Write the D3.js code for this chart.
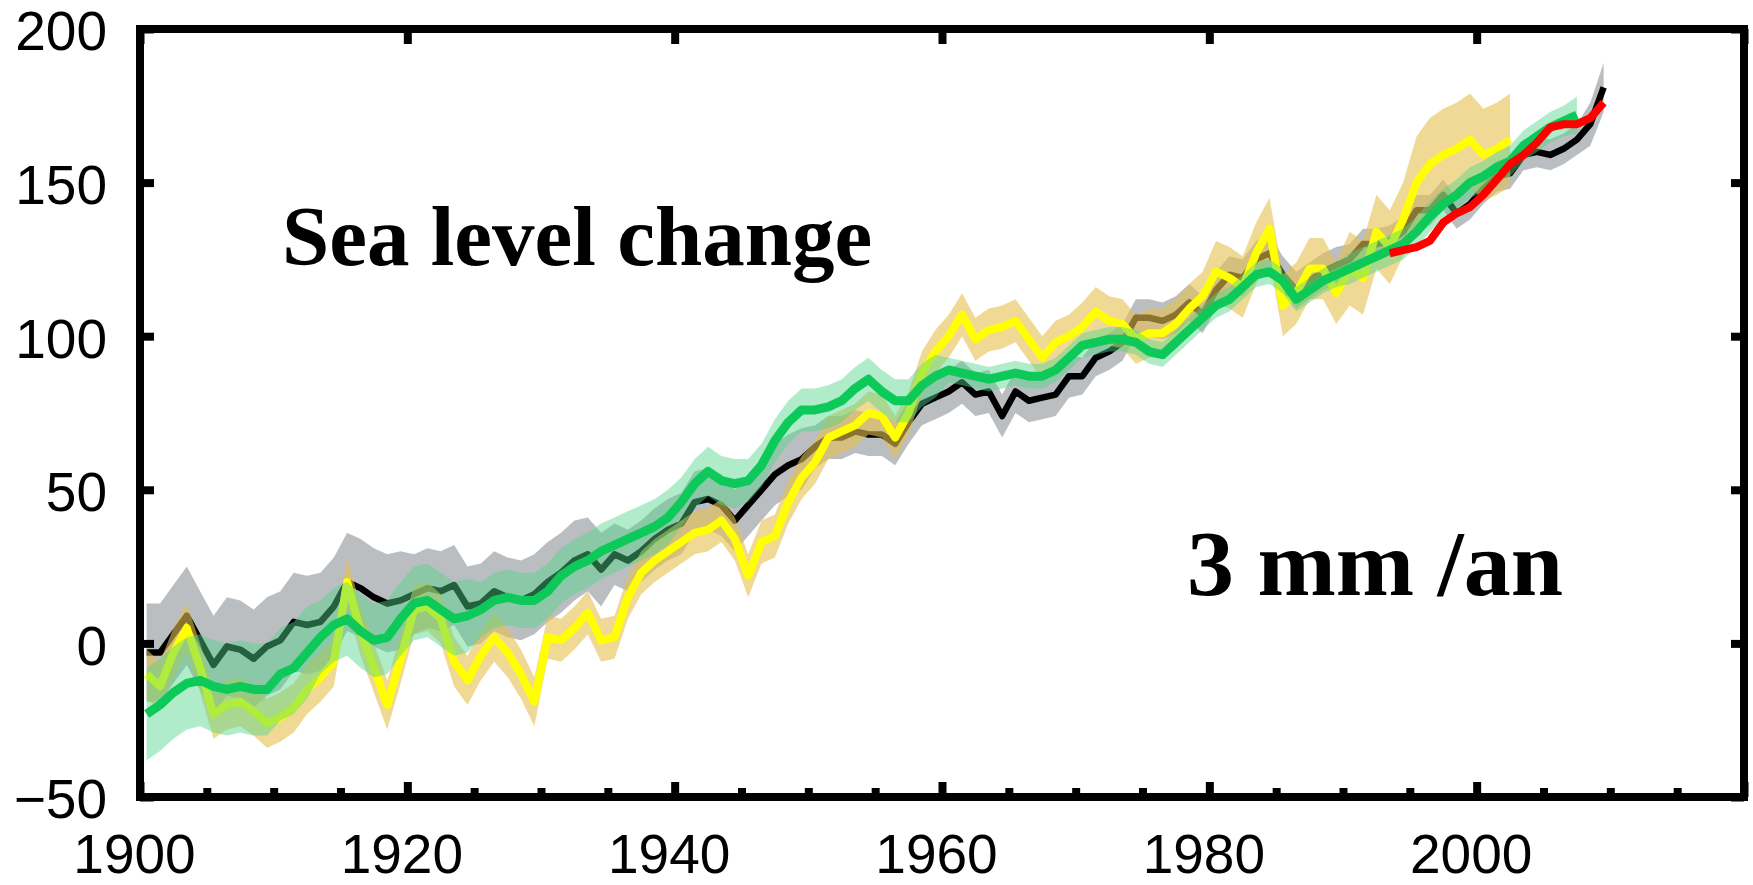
<!DOCTYPE html>
<html>
<head>
<meta charset="utf-8">
<script src="https://cdn.jsdelivr.net/npm/d3@7"></script>
<style>
	html, body { margin: 0; padding: 0; background: #fff; }
	svg { display: block; }
	.ticklabel text { font-family: "Liberation Sans", Arial, sans-serif; font-size: 55px; fill: #000; }
	.note { font-family: "Liberation Serif", "Times New Roman", serif; font-weight: bold; fill: #000; }
</style>
</head>
<body>
<svg id="graph"></svg>
<script>
// annual values (mm), first value belongs to the start year
const blackStart = 1900; // tide gauge reconstruction (black)
const blackValues = [
	-3, -3, 3, 9, 1, -7, -1, -2, -5, -1,
	1, 7, 6, 7, 12, 20, 18, 15, 13, 14,
	16, 18, 17, 19, 12, 13, 17, 15, 14, 16,
	20, 23, 27, 29, 24, 29, 27, 30, 34, 37,
	39, 46, 47, 45, 40, 45, 50, 55, 58, 60,
	64, 67, 67, 69, 68, 68, 65, 72, 78, 80,
	82, 85, 81, 82, 74, 82, 79, 80, 81, 87,
	87, 93, 95, 98, 106, 106, 105, 107, 111, 107,
	115, 120, 119, 125, 127, 120, 115, 118, 121, 123,
	125, 130, 130, 131, 134, 141, 141, 146, 140, 143,
	148, 152, 153, 159, 160, 159, 161, 164, 169, 181
];
const blackErr = [
	16, 16, 16, 16, 16, 16, 16, 16, 16, 16,
	16, 16, 16, 16, 16, 16, 16, 16, 16, 16,
	13, 13, 13, 13, 13, 13, 13, 13, 13, 13,
	13, 13, 13, 12, 12, 10, 10, 10, 10, 10,
	10, 10, 10, 10, 10, 10, 10, 10, 10, 10,
	7, 7, 7, 7, 7, 7, 7, 7, 7, 7,
	7, 7, 7, 7, 7, 7, 7, 7, 7, 7,
	6, 6, 6, 6, 6, 6, 6, 6, 6, 6,
	6, 6, 6, 6, 6, 6, 6, 6, 6, 6,
	5, 5, 5, 5, 5, 5, 5, 5, 5, 5,
	5, 5, 5, 5, 5, 5, 5, 5, 7, 8
];

const yellowStart = 1900; // second reconstruction (yellow)
const yellowValues = [
	-10, -14, -3, 5, -8, -23, -20, -19, -22, -26,
	-24, -21, -15, -11, -6, 20, 4, -8, -20, -5,
	11, 12, 8, -6, -12, -4, 2, -3, -10, -19,
	2, 1, 5, 10, 1, 2, 15, 23, 27, 30,
	33, 36, 37, 40, 34, 22, 33, 35, 46, 54,
	59, 67, 69, 71, 75, 74, 67, 75, 88, 95,
	100, 107, 99, 102, 103, 105, 99, 93, 98, 100,
	103, 108, 105, 104, 99, 101, 101, 104, 109, 113,
	121, 119, 116, 127, 135, 110, 114, 122, 122, 114,
	122, 119, 134, 129, 138, 150, 156, 159, 161, 164,
	159, 161, 164
];
const yellowErr = [
	8, 8, 8, 8, 8, 8, 8, 8, 8, 8,
	8, 8, 8, 8, 8, 8, 8, 8, 8, 8,
	8, 8, 8, 8, 8, 8, 8, 8, 8, 8,
	7, 7, 7, 7, 7, 7, 7, 7, 7, 7,
	7, 7, 7, 7, 7, 7, 7, 7, 7, 7,
	7, 7, 7, 7, 7, 7, 7, 7, 7, 7,
	7, 7, 7, 7, 7, 7, 7, 7, 7, 7,
	8, 8, 8, 8, 8, 8, 8, 8, 8, 8,
	10, 10, 10, 10, 10, 10, 10, 10, 10, 10,
	12, 12, 12, 12, 12, 15, 15, 15, 15, 15,
	15, 15, 15
];

const greenStart = 1900; // third reconstruction (green)
const greenValues = [
	-23, -20, -16, -13, -12, -14, -15, -14, -15, -15,
	-10, -8, -3, 2, 6, 8, 4, 1, 2, 8,
	13, 14, 11, 8, 9, 11, 14, 15, 14, 14,
	17, 22, 25, 27, 30, 32, 34, 36, 38, 41,
	46, 52, 56, 53, 52, 53, 58, 66, 72, 76,
	76, 77, 79, 83, 86, 82, 79, 79, 84, 87,
	89, 88, 87, 86, 87, 88, 87, 87, 89, 93,
	97, 98, 99, 99, 98, 95, 94, 98, 102, 106,
	110, 112, 116, 120, 121, 118, 112, 115, 118, 120,
	122, 124, 126, 128, 130, 134, 139, 143, 146, 150,
	152, 155, 157, 162, 165, 168, 170, 172
];
const greenErr = [
	15, 15, 15, 15, 15, 15, 15, 15, 15, 15,
	15, 15, 15, 12, 12, 12, 12, 12, 12, 12,
	12, 12, 12, 12, 12, 9, 9, 9, 9, 9,
	9, 9, 9, 9, 9, 9, 9, 9, 9, 9,
	8, 8, 8, 8, 8, 7, 7, 7, 7, 7,
	7, 7, 7, 7, 7, 7, 7, 7, 7, 7,
	4, 4, 4, 4, 4, 4, 4, 4, 4, 4,
	4, 4, 4, 4, 4, 4, 4, 4, 4, 4,
	4, 4, 4, 4, 4, 4, 4, 4, 4, 4,
	5, 5, 5, 5, 5, 5, 5, 5, 5, 5,
	5, 5, 5, 5, 5, 5, 5, 6
];

const redStart = 1993; // satellite altimetry (red)
const redValues = [127, 128, 129, 131, 137, 140, 142, 146, 151, 156, 159, 163, 168, 169, 169, 171, 176];

// axes
const xMajor = [1900, 1920, 1940, 1960, 1980, 2000, 2020];
const xMinor = [1905, 1910, 1915, 1925, 1930, 1935, 1945, 1950, 1955, 1965, 1970, 1975, 1985, 1990, 1995, 2005, 2010, 2015];
const xLabels = [1900, 1920, 1940, 1960, 1980, 2000];
const yTicks = [-50, 0, 50, 100, 150, 200];

const W = 1753;
const H = 885;
const m = { left: 140, right: 1744, top: 29, bottom: 797 };

const svg = d3.select("#graph").attr("width", W).attr("height", H);

const xScale = d3.scaleLinear().domain([1900, 2020]).range([m.left, m.right]);
const yScale = d3.scaleLinear().domain([-50, 200]).range([m.bottom, m.top]);

// turn a value array into points, plotted at mid-year
function toPoints(start, values, err) {
	return values.map((v, i) => ({ t: start + i + 0.5, v: v, e: err ? err[i] : 0 }));
}

const black = toPoints(blackStart, blackValues, blackErr);
const yellow = toPoints(yellowStart, yellowValues, yellowErr);
const green = toPoints(greenStart, greenValues, greenErr);
const red = toPoints(redStart, redValues);

const band = d3.area()
	.x((d) => xScale(d.t))
	.y0((d) => yScale(d.v - d.e))
	.y1((d) => yScale(d.v + d.e));
const line = d3.line()
	.x((d) => xScale(d.t))
	.y((d) => yScale(d.v));

const plot = svg.append("g");

// gray band + black line
plot.append("path").attr("d", band(black)).attr("fill", "#8e9398").attr("opacity", 0.6);
plot.append("path").attr("d", line(black)).attr("fill", "none")
	.attr("stroke", "#000").attr("stroke-width", 6.5).attr("stroke-linejoin", "round");

// tan band + yellow line
plot.append("path").attr("d", band(yellow)).attr("fill", "#e6c04e").attr("opacity", 0.6);
plot.append("path").attr("d", line(yellow)).attr("fill", "none")
	.attr("stroke", "#ffff00").attr("stroke-width", 8).attr("stroke-linejoin", "round");

// green band + green line
plot.append("path").attr("d", band(green)).attr("fill", "#4fd488").attr("opacity", 0.45);
plot.append("path").attr("d", line(green)).attr("fill", "none")
	.attr("stroke", "#0cc95a").attr("stroke-width", 9).attr("stroke-linejoin", "round");

// red satellite line
plot.append("path").attr("d", line(red)).attr("fill", "none")
	.attr("stroke", "#ff0000").attr("stroke-width", 8).attr("stroke-linejoin", "round");

// ticks (all pointing inward)
function styleTicks(g) {
	g.select(".domain").remove();
	g.selectAll(".tick line").attr("stroke", "#000").attr("stroke-width", 8);
}
svg.append("g").attr("transform", `translate(0,${m.bottom})`)
	.call(d3.axisBottom(xScale).tickValues(xMinor).tickSize(-9).tickFormat(""))
	.call(styleTicks);
svg.append("g").attr("transform", `translate(0,${m.bottom})`)
	.call(d3.axisBottom(xScale).tickValues(xMajor).tickSize(-15).tickFormat(""))
	.call(styleTicks);
svg.append("g").attr("transform", `translate(0,${m.top})`)
	.call(d3.axisTop(xScale).tickValues(xMajor).tickSize(-15).tickFormat(""))
	.call(styleTicks);
svg.append("g").attr("transform", `translate(${m.left},0)`)
	.call(d3.axisLeft(yScale).tickValues(yTicks).tickSize(-14).tickFormat(""))
	.call(styleTicks);
svg.append("g").attr("transform", `translate(${m.right},0)`)
	.call(d3.axisRight(yScale).tickValues(yTicks).tickSize(-13).tickFormat(""))
	.call(styleTicks);

// frame
svg.append("rect")
	.attr("x", m.left).attr("y", m.top)
	.attr("width", m.right - m.left).attr("height", m.bottom - m.top)
	.attr("fill", "none").attr("stroke", "#000").attr("stroke-width", 8);

// tick labels
svg.append("g").attr("class", "ticklabel").attr("transform", `translate(0,${m.bottom})`)
	.call(d3.axisBottom(xScale).tickValues(xLabels).tickSize(0).tickPadding(37).tickFormat(d3.format("d")))
	.call((g) => g.select(".domain").remove())
	.call((g) => g.selectAll("text").attr("dx", -6).attr("fill", "#000"));
svg.append("g").attr("class", "ticklabel").attr("transform", `translate(${m.left},0)`)
	.call(d3.axisLeft(yScale).tickValues(yTicks).tickSize(0).tickPadding(33))
	.call((g) => g.select(".domain").remove())
	.call((g) => g.selectAll("text").attr("dy", "0.38em").attr("fill", "#000"));

// annotations
svg.append("text").attr("class", "note")
	.attr("x", 282).attr("y", 265)
	.style("font-size", "85px")
	.text("Sea level change");
svg.append("text").attr("class", "note")
	.attr("x", 1187).attr("y", 595)
	.style("font-size", "94px")
	.text("3 mm /an");
</script>
</body>
</html>
